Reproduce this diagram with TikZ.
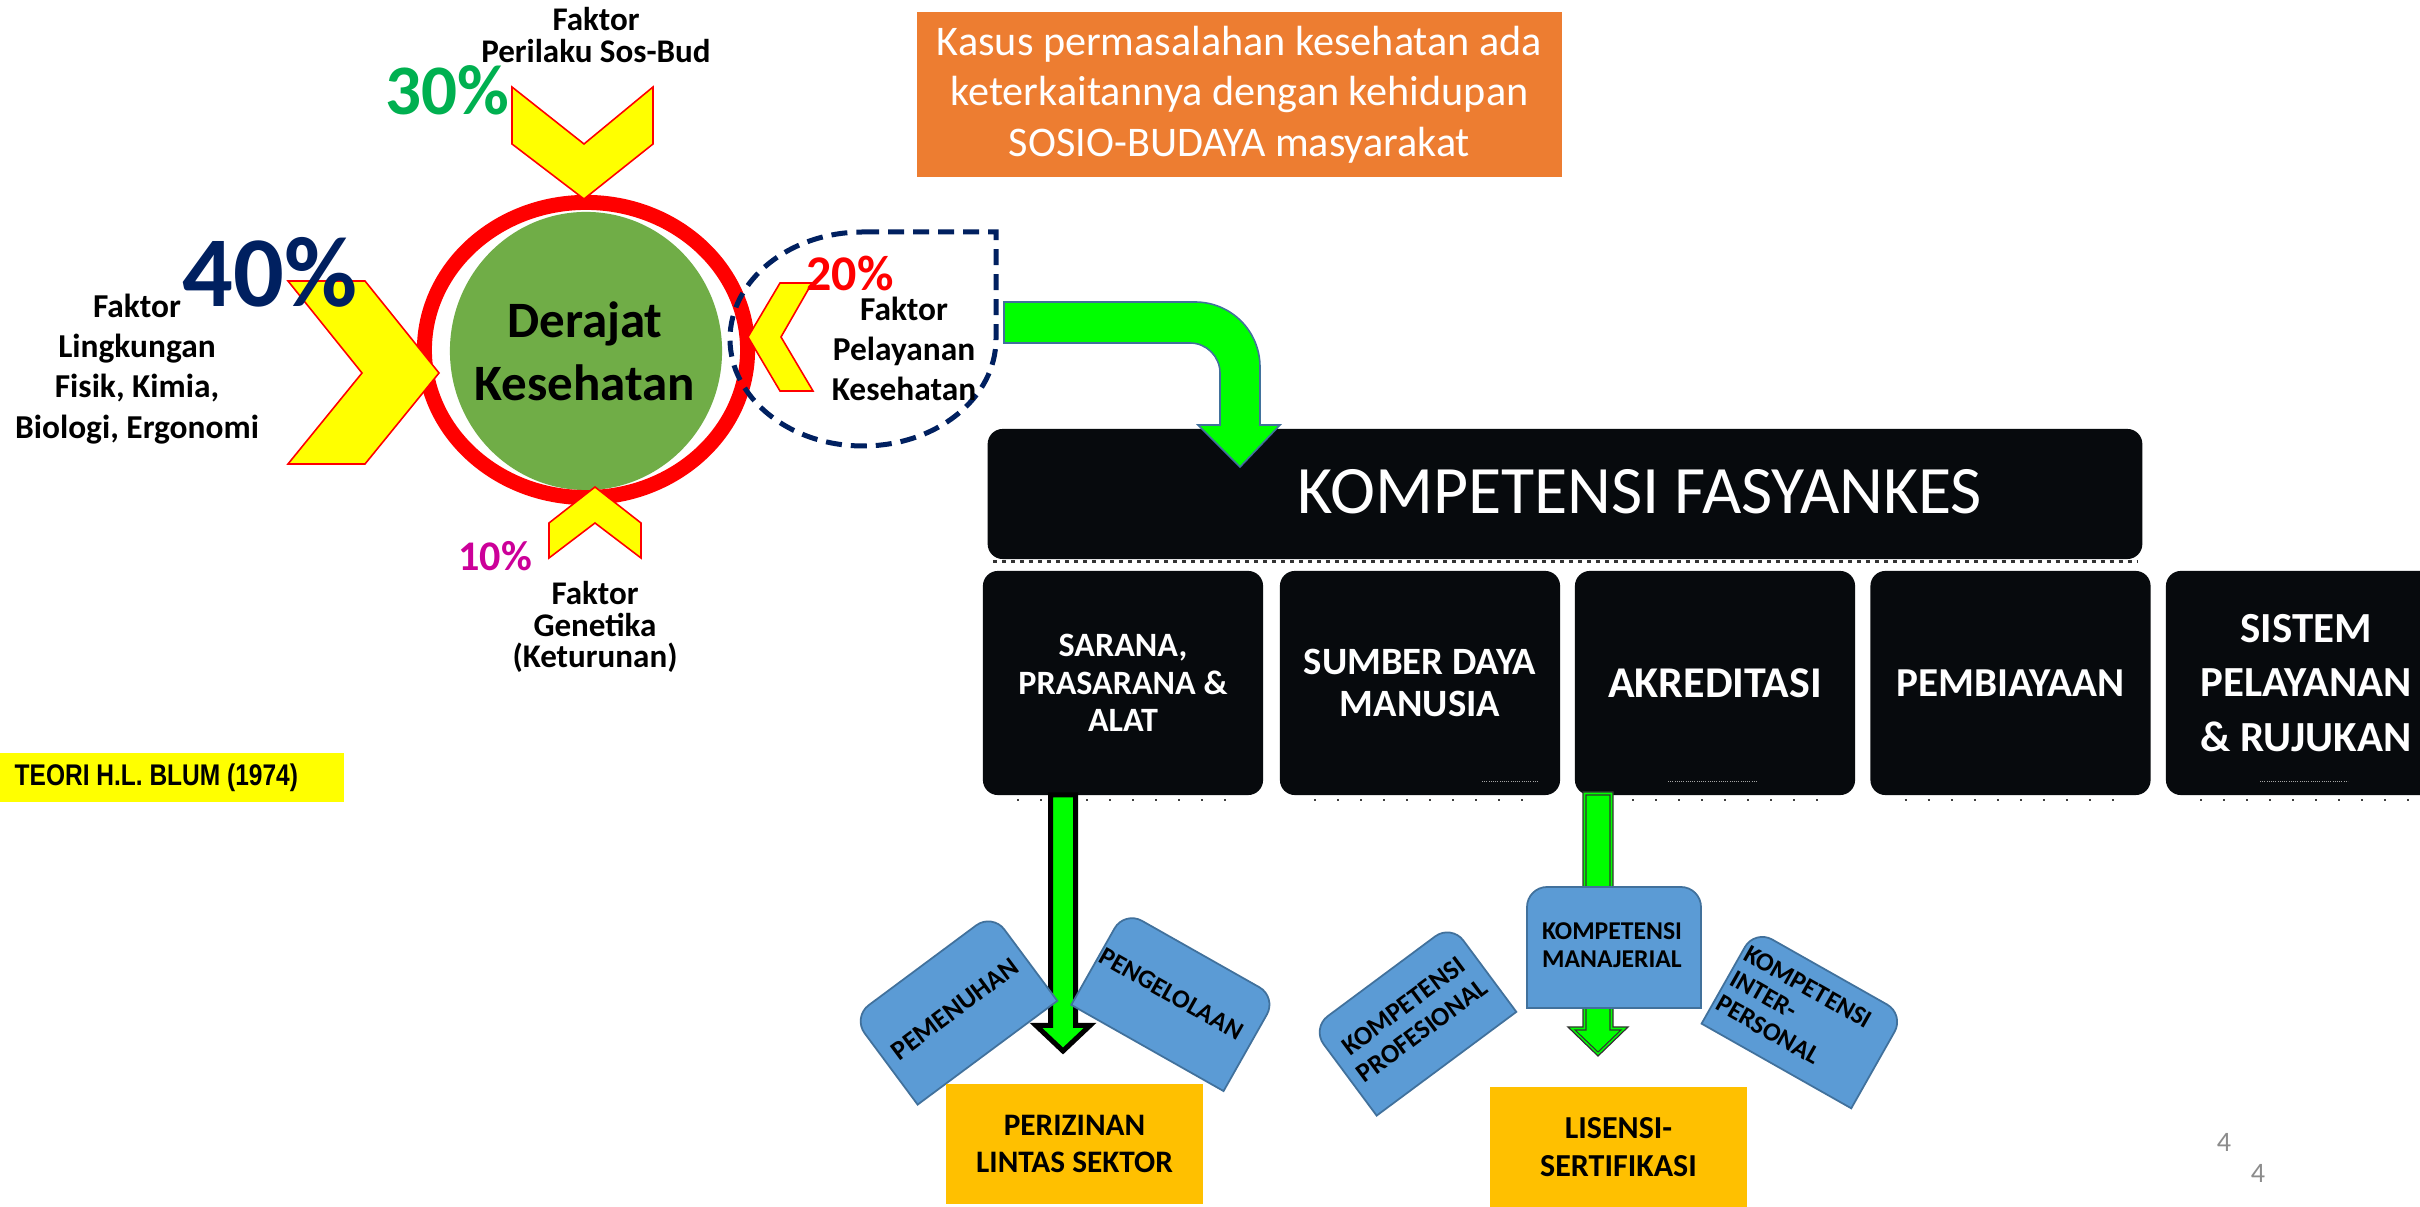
\documentclass[tikz,border=0pt]{standalone}
\usepackage{fontspec}
\usepackage{graphicx}
\setmainfont{Carlito}
\newfontfamily\arialfont{Liberation Sans}
\usetikzlibrary{calc}
\newcommand\setfs[2]{\fontsize{#1}{#2}\selectfont}
\definecolor{chevyellow}{HTML}{FFFF00}
\definecolor{derajatgreen}{HTML}{70AD47}
\definecolor{navy}{HTML}{002060}
\definecolor{pctgreen}{HTML}{00B050}
\definecolor{pctmagenta}{HTML}{CC0099}
\definecolor{orangebox}{HTML}{ED7D31}
\definecolor{arrowgreen}{HTML}{00FF00}
\definecolor{arrowedge}{HTML}{41719C}
\definecolor{bluefill}{HTML}{5B9BD5}
\definecolor{bluedge}{HTML}{41719C}
\definecolor{goldfill}{HTML}{FFC000}
\definecolor{boxblack}{HTML}{070A0D}
\definecolor{pagegrey}{HTML}{8C8C8C}
\tikzset{
  chev/.style={fill=chevyellow, draw=red, line width=0.45pt, line join=miter},
  faktor/.style={font=\bfseries\setfs{9.5}{11.4}, align=center, inner sep=0},
  faktortight/.style={font=\bfseries\setfs{9.4}{9}, align=center, inner sep=0},
  blackbox/.style={fill=boxblack, rounded corners=0.15cm, minimum width=2.8cm, minimum height=2.24cm, text=white, align=center, inner sep=0},
  blueshape/.style={fill=bluefill, draw=bluedge, line width=0.5pt, line join=miter},
  bluetext/.style={font=\bfseries\setfs{7.5}{8.4}, align=center, inner sep=0},
  goldbox/.style={fill=goldfill, minimum width=2.57cm, minimum height=1.2cm, inner sep=0, align=center},
  bentarrow/.style={fill=arrowgreen, draw=arrowedge, line width=0.45pt, line join=miter},
  fringe/.style={black!75, line width=0.02cm, dash pattern=on 0.02cm off 0.21cm},
  faintdots/.style={gray!70, line width=0.01cm, dash pattern=on 0.01cm off 0.012cm}
}
\begin{document}
\begin{tikzpicture}[x=0.01cm, y=-0.01cm]
\useasboundingbox (0,0) rectangle (2420,1207);
\fill[white] (0,0) rectangle (2420,1207);

% ---------- Blum model ----------
\fill[derajatgreen] (586,351) ellipse [x radius=1.36cm, y radius=1.39cm];
\draw[red, line width=0.15cm] (586,350) ellipse [x radius=1.615cm, y radius=1.475cm];

\path[chev] (512,87) -- (584,144) -- (653,87) -- (653,144) -- (584,199) -- (512,144) -- cycle;
\path[chev] (288,281) -- (365,281) -- (439,373) -- (365,464) -- (288,464) -- (362,373) -- cycle;
\path[chev] (748,337) -- (780,283) -- (812,283) -- (781,337) -- (813,391) -- (780,391) -- cycle;
\path[chev] (549,558) -- (549,523) -- (595,487) -- (641,523) -- (641,558) -- (595,523) -- cycle;

\draw[navy, line width=0.05cm, dash pattern=on 0.16cm off 0.09cm]
  (863,232) -- (996,232) -- (996,339)
  .. controls (996,398) and (936.5,446) .. (863,446)
  .. controls (789.5,446) and (730,398) .. (730,339)
  .. controls (730,280) and (789.5,232) .. (863,232);

\node[font=\bfseries\setfs{14.5}{17.9}, align=center, inner sep=0] (derajat) at (585,351) {Derajat\\Kesehatan};
\node[faktortight] (perilaku) at (596,35) {Faktor\\Perilaku Sos-Bud};
\node[faktor] (lingkungan) at (137,369) {Faktor\\Lingkungan\\Fisik, Kimia,\\Biologi, Ergonomi};
\node[faktor] (pelayanan) at (904,349) {Faktor\\Pelayanan\\Kesehatan};
\node[faktortight] (genetika) at (595,627) {Faktor\\Genetika\\(Keturunan)};

\node[text=navy, font=\bfseries\setfs{28.5}{30}, inner sep=0] (p40) at (270,272.5) {40\%};
\node[text=pctgreen, font=\bfseries\setfs{20.2}{22}, inner sep=0] (p30) at (447,90.5) {30\%};
\node[text=red, font=\bfseries\setfs{14.2}{16}, inner sep=0] (p20) at (850,273.5) {20\%};
\node[text=pctmagenta, font=\bfseries\setfs{12}{14}, inner sep=0] (p10) at (495,556.5) {10\%};

\node[fill=chevyellow, minimum width=3.44cm, minimum height=0.49cm, inner sep=0] (teoribox) at (172,777.5) {};
\node[anchor=west, inner sep=0, font=\arialfont\bfseries\setfs{8.5}{10}] (teori) at (14,777.5) {\scalebox{0.82}[1]{TEORI H.L. BLUM (1974)}};

% ---------- orange note ----------
\node[fill=orangebox, minimum width=6.45cm, minimum height=1.65cm, inner sep=0, text=white, align=center, font=\setfs{12}{14.3}] (kasus) at (1239.5,94.5) {Kasus permasalahan kesehatan ada\\keterkaitannya dengan kehidupan\\SOSIO-BUDAYA masyarakat};

% ---------- KOMPETENSI FASYANKES ----------
\node[fill=boxblack, rounded corners=0.15cm, minimum width=11.54cm, minimum height=1.3cm, inner sep=0] (komp) at (1565,494) {};
\node[text=white, font=\setfs{19.3}{23}, inner sep=0] (kompt) at (1640,491.5) {KOMPETENSI FASYANKES};
\draw[black!80, line width=0.03cm, dash pattern=on 0.04cm off 0.05cm] ($(komp.south west)+(6,2)$) -- ($(komp.south east)+(-6,2)$);

% bent arrow from Faktor Pelayanan to the box
\coordinate (bentstart) at (1004,322.5);
\path[bentarrow] (1004,302) -- (1195,302) .. controls (1231,302) and (1260,331) .. (1260,367)
  -- (1260,425) -- (1280,425) -- (1240,467) -- (1198,425) -- (1220,425) -- (1220,373)
  .. controls (1220,356.5) and (1206.5,343) .. (1190,343) -- (1004,343) -- cycle;

% ---------- five competence boxes ----------
\node[blackbox, font=\bfseries\setfs{9.7}{10.7}] (sarana) at (1123,683) {SARANA,\\PRASARANA \&\\ALAT};
\node[blackbox, font=\bfseries\setfs{11}{12.2}] (sdm) at (1420,683) {SUMBER DAYA\\MANUSIA};
\node[blackbox, font=\bfseries\setfs{12.5}{14}] (akred) at (1715,683) {AKREDITASI};
\node[blackbox, font=\bfseries\setfs{11.7}{13}] (biaya) at (2010.5,683) {PEMBIAYAAN};
\node[blackbox, font=\bfseries\setfs{12.2}{15.6}] (sistem) at (2306,683) {SISTEM\\PELAYANAN\\\& RUJUKAN};
\foreach \b in {sarana,sdm,akred,biaya,sistem}{
  \draw[fringe] ($(\b.south west)+(35,4)$) -- ($(\b.south east)+(-25,4)$);
}
\draw[faintdots] (1482,782) -- (1538,782);
\draw[faintdots] (1668,782) -- (1758,782);
\draw[faintdots] (2260,782) -- (2348,782);

% ---------- arrow below SARANA ----------
\path[fill=arrowgreen, draw=black, line width=0.05cm, line join=miter]
  (1050.5,795) -- (1050.5,1025.5) -- (1036,1025.5) -- (1063,1051) -- (1090,1025.5) -- (1075.5,1025.5) -- (1075.5,795) -- cycle;

% ---------- arrow below AKREDITASI ----------
\path[fill=arrowgreen, draw=black!80, line width=0.35pt, line join=miter]
  (1583,792) -- (1583,1027) -- (1568,1027) -- (1598,1056) -- (1628,1027) -- (1613,1027) -- (1613,792) -- cycle;
\draw[black!80, line width=0.3pt, line join=miter]
  (1586,795) -- (1586,1030) -- (1575,1030) -- (1598,1052) -- (1621,1030) -- (1610,1030) -- (1610,795) -- cycle;

% ---------- blue shapes ----------
\begin{scope}[shift={(955,1009)}, rotate=36.6]
  \path[blueshape] (-87,54.5) -- (-87,-34.5) .. controls (-87,-45.5) and (-78,-54.5) .. (-67,-54.5)
    -- (67,-54.5) .. controls (78,-54.5) and (87,-45.5) .. (87,-34.5) -- (87,54.5) -- cycle;
  \node[bluetext, font=\bfseries\setfs{7.7}{8.6}, rotate=36.6] (pemenuhan) at (0,0) {PEMENUHAN};
\end{scope}
\begin{scope}[shift={(1174,1001)}, rotate=-29.5]
  \path[blueshape] (-87.5,54) -- (-87.5,-34) .. controls (-87.5,-45) and (-78.5,-54) .. (-67.5,-54)
    -- (67.5,-54) .. controls (78.5,-54) and (87.5,-45) .. (87.5,-34) -- (87.5,54) -- cycle;
  \node[bluetext, font=\bfseries\setfs{7.4}{8.4}, rotate=-29.5] (pengelolaan) at (-6,-5) {PENGELOLAAN};
\end{scope}
\begin{scope}[shift={(1414,1020)}, rotate=36.6]
  \path[blueshape] (-87,54.5) -- (-87,-34.5) .. controls (-87,-45.5) and (-78,-54.5) .. (-67,-54.5)
    -- (67,-54.5) .. controls (78,-54.5) and (87,-45.5) .. (87,-34.5) -- (87,54.5) -- cycle;
  \node[bluetext, font=\bfseries\setfs{7.6}{8.8}, rotate=36.6] (profesional) at (0,-2) {KOMPETENSI\\PROFESIONAL};
\end{scope}
\begin{scope}[shift={(1803,1019)}, rotate=-29.5]
  \path[blueshape] (-86,54) -- (-86,-34) .. controls (-86,-45) and (-77,-54) .. (-66,-54)
    -- (66,-54) .. controls (77,-54) and (86,-45) .. (86,-34) -- (86,54) -- cycle;
  \node[bluetext, font=\bfseries\setfs{7.4}{8.1}, align=left, anchor=west, rotate=-29.5] (interpersonal) at (-83,-2) {KOMPETENSI\\INTER-\\PERSONAL};
\end{scope}
\path[blueshape] (1527,1008) -- (1527,907) .. controls (1527,896) and (1536,887) .. (1547,887)
  -- (1681,887) .. controls (1692,887) and (1701,896) .. (1701,907) -- (1701,1008) -- cycle;
\node[bluetext, font=\bfseries\setfs{7.3}{7.9}] (manajerial) at (1612,945) {KOMPETENSI\\MANAJERIAL};

% ---------- gold boxes ----------
\node[goldbox, font=\bfseries\setfs{8.9}{10.6}] (perizinan) at (1074.5,1144) {PERIZINAN\\LINTAS SEKTOR};
\node[goldbox, font=\bfseries\setfs{9.1}{10.8}] (lisensi) at (1618.5,1147) {LISENSI-\\SERTIFIKASI};

% ---------- page numbers ----------
\node[text=pagegrey, font=\setfs{8}{9}, inner sep=0] (pga) at (2224,1142) {4};
\node[text=pagegrey, font=\setfs{8}{9}, inner sep=0] (pgb) at (2258,1173) {4};
\end{tikzpicture}
\end{document}
